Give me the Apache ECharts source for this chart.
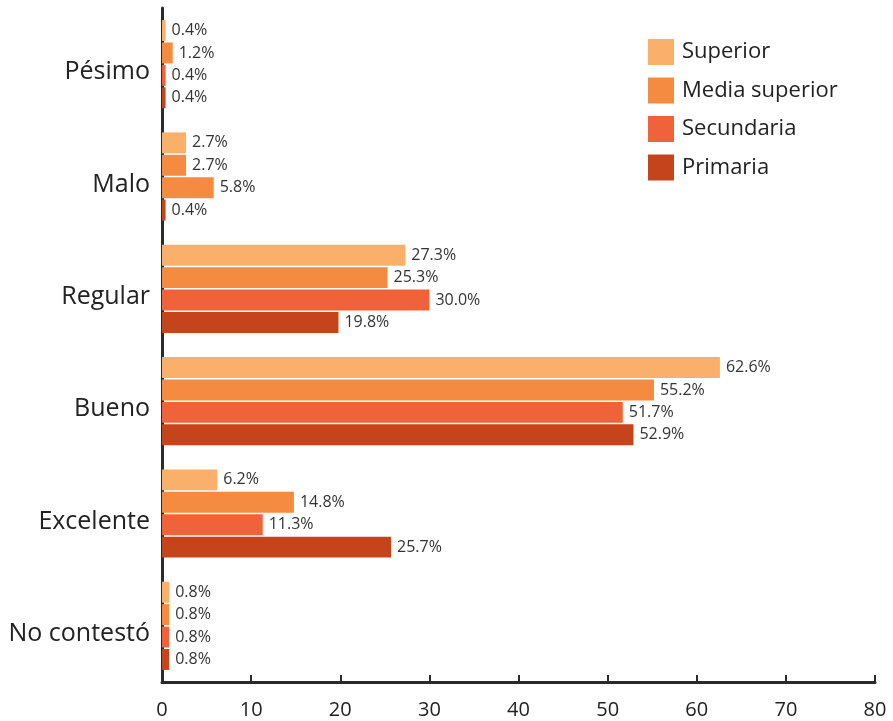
<!DOCTYPE html>
<html><head><meta charset="utf-8">
<script src="https://cdn.jsdelivr.net/npm/echarts@6/dist/echarts.min.js"></script>
<style>html,body{margin:0;padding:0;background:#fff}#c{width:893px;height:721px}</style>
</head><body><div id="c"></div>
<script>
const categories = ['Pésimo','Malo','Regular','Bueno','Excelente','No contestó'];
const seriesNames = ['Superior','Media superior','Secundaria','Primaria'];
const superior = [0.4, 2.7, 27.3, 62.6, 6.2, 0.8];
const mediaSuperior = [1.2, 2.7, 25.3, 55.2, 14.8, 0.8];
const secundaria = [0.4, 5.8, 30.0, 51.7, 11.3, 0.8];
const primaria = [0.4, 0.4, 19.8, 52.9, 25.7, 0.8];
const xTicks = [0, 10, 20, 30, 40, 50, 60, 70, 80];

const colors = ['#FAB06A', '#F58B40', '#F0633A', '#C6441B'];
const font = '"Open Sans", Lato, sans-serif';
const values = [superior, mediaSuperior, secundaria, primaria];

const chart = echarts.init(document.getElementById('c'));
chart.setOption({
  animation: false,
  color: colors,
  grid: { left: 162, right: 18, top: 8, bottom: 39, containLabel: false },
  legend: {
    orient: 'vertical', left: 648, top: 39, padding: 0,
    itemWidth: 26, itemHeight: 26, itemGap: 12.5,
    icon: 'rect',
    textStyle: { fontFamily: font, fontSize: 22, color: '#222', padding: [0,0,0,3] },
    data: seriesNames
  },
  xAxis: {
    type: 'value', min: xTicks[0], max: xTicks[xTicks.length-1], interval: 10,
    axisLine: { show: true, lineStyle: { color: '#2a2a2a', width: 3 } },
    axisTick: { show: true, inside: true, length: 7, lineStyle: { color: '#2a2a2a', width: 2 } },
    axisLabel: { fontFamily: font, fontSize: 20, color: '#222', margin: 18 },
    splitLine: { show: false }
  },
  yAxis: {
    type: 'category', data: categories, inverse: true,
    axisLine: { show: true, lineStyle: { color: '#2a2a2a', width: 3 } },
    axisTick: { show: false },
    axisLabel: {
      margin: 12,
      formatter: v => '{a|' + v + '}',
      rich: { a: { fontFamily: font, fontSize: 25, color: '#222', padding: [16, 0, 0, 0] } }
    }
  },
  series: seriesNames.map((name, i) => ({
    name, type: 'bar',
    barCategoryGap: '21.5%', barGap: '7%',
    itemStyle: { color: colors[i] },
    data: values[i].map((v, j) => (name === 'Secundaria' && categories[j] === 'Malo')
      ? { value: v, itemStyle: { color: colors[1] } } : v),
    label: {
      show: true, position: 'right', distance: 6,
      formatter: p => p.value.toFixed(1) + '%',
      fontFamily: font, fontSize: 16, color: '#333'
    }
  }))
});
</script></body></html>
